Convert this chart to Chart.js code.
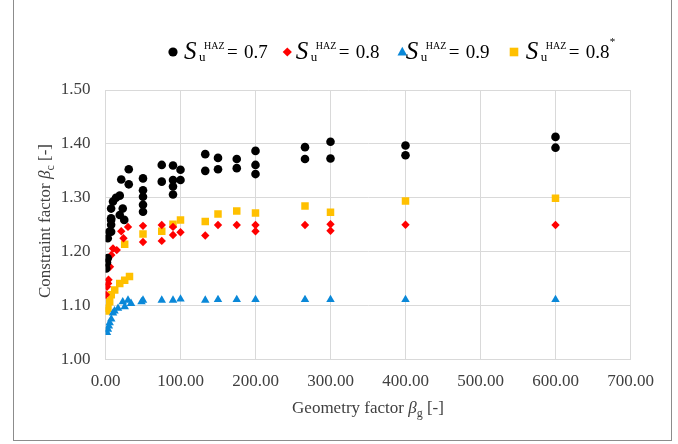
<!DOCTYPE html>
<html>
<head>
<meta charset="utf-8">
<script src="https://cdn.jsdelivr.net/npm/chart.js@4/dist/chart.umd.min.js"></script>
<style>
  html, body { margin: 0; padding: 0; background: #ffffff; }
  #wrap { position: relative; width: 678px; height: 444px; overflow: hidden; }
  #c { position: absolute; left: 0; top: 0; }
  #ov { position: absolute; left: 0; top: 0; pointer-events: none; }
  #frame { position: absolute; left: 13px; top: -2px; width: 659px; height: 443px; border: 1px solid #8c8c8c; box-sizing: border-box; }
</style>
</head>
<body>
<div id="wrap">
  <div id="frame"></div>
  <canvas id="c" width="678" height="444"></canvas>
  <svg id="ov" width="678" height="444" xmlns="http://www.w3.org/2000/svg" font-family="'Liberation Serif', 'Times New Roman', serif"></svg>
</div>
<script>
// ---- data ----
const xTickLabels = ["0.00","100.00","200.00","300.00","400.00","500.00","600.00","700.00"];
const yTickLabels = ["1.00","1.10","1.20","1.30","1.40","1.50"];

const seriesNames = ["0.7", "0.8", "0.9", "0.8"];

const bg07 = [1, 2, 3, 3, 5, 7.5, 7.5, 7.5, 7.5, 7.5, 10, 14, 19, 19, 21, 23, 25, 31, 31, 50, 50, 50, 50, 50, 75, 75, 90, 90, 90, 90, 100, 100, 133, 133, 150, 150, 175, 175, 200, 200, 200, 266, 266, 300, 300, 400, 400, 600, 600];
const bc07 = [1.169, 1.180, 1.188, 1.225, 1.237, 1.237, 1.250, 1.259, 1.262, 1.280, 1.293, 1.300, 1.268, 1.304, 1.334, 1.280, 1.259, 1.353, 1.325, 1.336, 1.314, 1.302, 1.287, 1.274, 1.361, 1.330, 1.360, 1.333, 1.321, 1.306, 1.352, 1.333, 1.381, 1.350, 1.374, 1.353, 1.372, 1.355, 1.387, 1.361, 1.344, 1.394, 1.372, 1.404, 1.373, 1.397, 1.379, 1.413, 1.393];

const bg08 = [0.5, 2, 3.5, 4, 6, 7.7, 10, 15, 21, 24, 30, 50, 50, 75, 75, 90, 90, 100, 133, 150, 175, 200, 200, 266, 300, 300, 400, 600];
const bc08 = [1.120, 1.135, 1.141, 1.148, 1.172, 1.194, 1.206, 1.203, 1.238, 1.225, 1.246, 1.248, 1.218, 1.2495, 1.220, 1.246, 1.231, 1.236, 1.230, 1.2495, 1.2495, 1.2495, 1.238, 1.2495, 1.251, 1.239, 1.250, 1.2495];

const bg09 = [2, 3.3, 4.5, 5.6, 7.7, 10, 12, 16.7, 23, 25.6, 30, 34, 48, 50, 75, 90, 100, 133, 150, 175, 200, 266, 300, 400, 600];
const bc09 = [1.050, 1.056, 1.062, 1.068, 1.075, 1.086, 1.090, 1.095, 1.107, 1.098, 1.110, 1.104, 1.107, 1.110, 1.110, 1.110, 1.112, 1.110, 1.111, 1.111, 1.111, 1.111, 1.111, 1.111, 1.111];

const bg08s = [1, 3.3, 5.6, 7.7, 12.3, 19, 25.6, 32, 25.6, 50, 75, 90, 100, 133, 150, 175, 200, 266, 300, 400, 600];
const bc08s = [1.090, 1.095, 1.107, 1.120, 1.129, 1.141, 1.147, 1.154, 1.214, 1.233, 1.238, 1.251, 1.259, 1.256, 1.270, 1.2755, 1.272, 1.285, 1.273, 1.294, 1.299];

// ---- build ----
function pts(xs, ys) { return xs.map((x, i) => ({ x: x, y: ys[i] })); }

const GRID = '#d9d9d9';
const FONT = "'Liberation Serif', 'Times New Roman', serif";

new Chart(document.getElementById('c'), {
  type: 'scatter',
  data: {
    datasets: [
      { label: seriesNames[0], data: pts(bg07, bc07), pointStyle: 'circle', pointRadius: 4.3, backgroundColor: '#000000', borderColor: '#000000', borderWidth: 0 },
      { label: seriesNames[1], data: pts(bg08, bc08), pointStyle: 'rectRot', pointRadius: 4.2, backgroundColor: '#ff0000', borderColor: '#ff0000', borderWidth: 0 },
      { label: seriesNames[2], data: pts(bg09, bc09), pointStyle: 'triangle', pointRadius: 4.9, backgroundColor: '#0a88d8', borderColor: '#0a88d8', borderWidth: 0 },
      { label: seriesNames[3], data: pts(bg08s, bc08s), pointStyle: 'rect', pointRadius: 5.3, backgroundColor: '#ffc000', borderColor: '#ffc000', borderWidth: 0 }
    ]
  },
  options: {
    responsive: false,
    animation: false,
    events: [],
    layout: { padding: { left: 0, right: 47.5, top: 90, bottom: 44.5 } },
    plugins: { legend: { display: false }, tooltip: { enabled: false }, title: { display: false } },
    scales: {
      x: {
        type: 'linear', min: 0, max: 700,
        ticks: { stepSize: 100, padding: 12, color: '#404040', font: { family: FONT, size: 17 },
          callback: (v) => xTickLabels[Math.round(v / 100)] },
        grid: { color: GRID, lineWidth: 1, drawTicks: false },
        border: { display: true, color: GRID },
        afterFit: (s) => { s.height = 40; }
      },
      y: {
        type: 'linear', min: 1.0, max: 1.5,
        ticks: { stepSize: 0.1, padding: 15, color: '#404040', font: { family: FONT, size: 17 },
          callback: (v) => yTickLabels[Math.round((v - 1) * 10)] },
        grid: { color: GRID, lineWidth: 1, drawTicks: false },
        border: { display: true, color: GRID },
        afterFit: (s) => { s.width = 105.5; }
      }
    }
  }
});

// ---- SVG overlay: legend and axis titles (real text with sub/superscripts) ----
const svg = document.getElementById('ov');
const NS = 'http://www.w3.org/2000/svg';
function el(tag, attrs, text) {
  const e = document.createElementNS(NS, tag);
  for (const k in attrs) e.setAttribute(k, attrs[k]);
  if (text !== undefined) e.textContent = text;
  svg.appendChild(e);
  return e;
}

const legendStarts = [185, 296.7, 406.7, 526.7];
const markerX = [173, 287.3, 402.3, 514];
const markerY = 52;
el('circle', { cx: markerX[0], cy: markerY, r: 4.6, fill: '#000000' });
el('polygon', { points: `${markerX[1]},${markerY-4.6} ${markerX[1]+4.6},${markerY} ${markerX[1]},${markerY+4.6} ${markerX[1]-4.6},${markerY}`, fill: '#ff0000' });
el('polygon', { points: `${markerX[2]},${markerY-5.2} ${markerX[2]+4.8},${markerY+3.4} ${markerX[2]-4.8},${markerY+3.4}`, fill: '#0a88d8' });
el('rect', { x: markerX[3]-4.3, y: markerY-4.3, width: 8.6, height: 8.6, fill: '#ffc000' });

legendStarts.forEach((x0, i) => {
  el('text', { x: x0 - 1, y: 58.5, 'font-size': 25, 'font-style': 'italic', fill: '#000' }, 'S');
  el('text', { x: x0 + 19, y: 48.5, 'font-size': 10, fill: '#000' }, 'HAZ');
  el('text', { x: x0 + 14, y: 61, 'font-size': 13, fill: '#000' }, 'u');
  el('text', { x: x0 + 42, y: 57.5, 'font-size': 19, fill: '#000' }, '=');
  el('text', { x: x0 + 59, y: 57.5, 'font-size': 19, fill: '#000' }, seriesNames[i]);
  if (i === 3) el('text', { x: x0 + 83, y: 45, 'font-size': 11, fill: '#000' }, '*');
});

const xt = el('text', { x: 368, y: 413, 'font-size': 17, fill: '#404040', 'text-anchor': 'middle' });
xt.innerHTML = 'Geometry factor <tspan font-style="italic">β</tspan><tspan font-size="12" dy="4">g</tspan><tspan dy="-4"> [-]</tspan>';
const yt = el('text', { transform: 'translate(50,221) rotate(-90)', x: 0, y: 0, 'font-size': 17, fill: '#404040', 'text-anchor': 'middle' });
yt.innerHTML = 'Constraint factor <tspan font-style="italic">β</tspan><tspan font-size="12" dy="4">c</tspan><tspan dy="-4"> [-]</tspan>';
</script>
</body>
</html>
